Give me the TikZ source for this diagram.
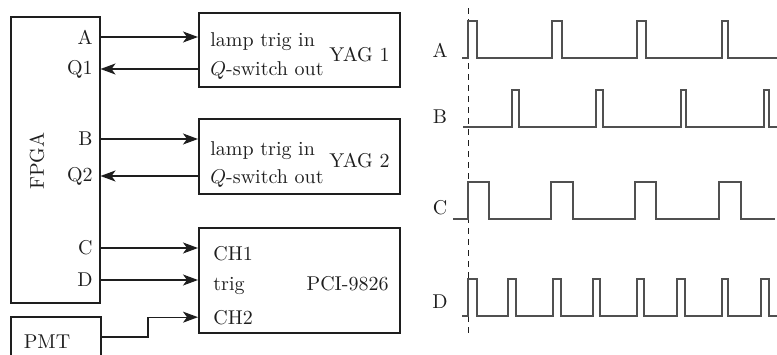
\documentclass[tikz,border=0pt]{standalone}
\usepackage{tikz}
\usetikzlibrary{positioning, arrows.meta}
\definecolor{ink}{RGB}{30,30,30}
\definecolor{trace}{RGB}{80,80,80}

\begin{document}
\begin{tikzpicture}[x=0.5pt, y=-0.5pt, font=\normalsize]
  \tikzset{
    unit/.style={draw=ink, line width=0.75pt, inner sep=0pt, anchor=north west},
    sig/.style={draw=ink, line width=0.65pt, -{Stealth[length=7.5pt, width=5.5pt, inset=2pt]}},
    port/.style={anchor=east, text=ink, inner sep=0pt},
    pin/.style={anchor=base west, text=ink, inner sep=0pt},
    wave/.style={draw=trace, line width=0.65pt},
    tname/.style={anchor=base, text=ink, inner sep=0pt}}
  \useasboundingbox (0,0) rectangle (777,354);

  % --- the controller and its ports
  \node[unit, minimum width=44.5pt, minimum height=143pt] (fpga) at (10,16) {};
  \node[rotate=90, text=ink] (fpgan) at (37,161) {FPGA};
  \node[port] (lA) at (93,37) {A};
  \node[port] (lQ1) at (93,69) {Q1};
  \node[port] (lB) at (93,139) {B};
  \node[port] (lQ2) at (93,176) {Q2};
  \node[port] (lC) at (93,248) {C};
  \node[port] (lD) at (93,280) {D};

  % --- the two lasers and the card
  \node[unit, minimum width=100.5pt, minimum height=37pt] (yag1) at (198,12) {};
  \node[pin] (lamp1) at (210,46) {lamp trig in};
  \node[pin] (qsw1) at (210,75) {$Q$-switch out};
  \node[tname, anchor=base east] (yag1n) at (390,61) {YAG 1};

  \node[unit, minimum width=100.5pt, minimum height=37.5pt] (yag2) at (198,118) {};
  \node[pin] (lamp2) at (210,155) {lamp trig in};
  \node[pin] (qsw2) at (210,183) {$Q$-switch out};
  \node[tname, anchor=base east] (yag2n) at (390,167) {YAG 2};

  \node[unit, minimum width=100.5pt, minimum height=52.5pt] (pci) at (198,227) {};
  \node[pin] (lch1) at (213,260) {CH1};
  \node[pin] (ltrig) at (213,290) {trig};
  \node[pin] (lch2) at (213,324) {CH2};
  \node[tname, anchor=base east] (pcin) at (389,290) {PCI-9826};

  \node[unit, minimum width=45pt, minimum height=27pt] (pmt) at (10,316) {};
  \node[text=ink] (pmtn) at (47,342) {PMT};
  \coordinate (pmtout) at (100,337);

  % --- connections
  \draw[sig] (fpga.east |- lA) -- (yag1.west |- lA);
  \draw[sig] (yag1.west |- lQ1) -- (fpga.east |- lQ1);
  \draw[sig] (fpga.east |- lB) -- (yag2.west |- lB);
  \draw[sig] (yag2.west |- lQ2) -- (fpga.east |- lQ2);
  \draw[sig] (fpga.east |- lC) -- (pci.west |- lC);
  \draw[sig] (fpga.east |- lD) -- (pci.west |- lD);
  \draw[sig] (pmtout) -- ++(48,0) |- (pci.west |- lch2);

  % --- timing
  \coordinate (t0top) at (468,8);
  \coordinate (t0bot) at (468,334);
  \draw[ink, line width=0.5pt, dash pattern=on 3pt off 2.5pt] (t0top) -- (t0bot);

  \node[tname] (wA) at (440,57) {A};
  \draw[wave] (462,58) \foreach \u/\v in {468/477,552/562,637/646,722/728}
    { -- (\u,58) -- (\u,21) -- (\v,21) -- (\v,58) } -- (777,58);

  \node[tname] (wB) at (440,123) {B};
  \draw[wave] (463,127) \foreach \u/\v in {512/519,596/603,681/686,764/769}
    { -- (\u,127) -- (\u,90) -- (\v,90) -- (\v,127) } -- (777,127);

  \node[tname] (wC) at (440,214) {C};
  \draw[wave] (453,219) \foreach \u/\v in {468/489,551/573,635/656,719/741}
    { -- (\u,219) -- (\u,182) -- (\v,182) -- (\v,219) } -- (775,219);

  \node[tname] (wD) at (440,308) {D};
  \draw[wave] (462,316) \foreach \u/\v in {468/477,508/516,553/561,593/600,637/644,677/685,722/728,761/769}
    { -- (\u,316) -- (\u,279) -- (\v,279) -- (\v,316) } -- (777,316);
\end{tikzpicture}
\end{document}
